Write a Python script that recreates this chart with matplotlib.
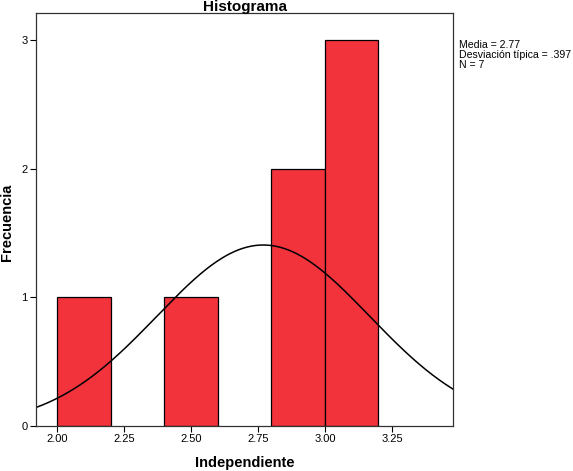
import numpy as np
import matplotlib
matplotlib.use("Agg")
import matplotlib.pyplot as plt

plt.rcParams['font.family'] = ['Liberation Sans', 'DejaVu Sans']

bin_edges = [2.0, 2.2, 2.4, 2.6, 2.8, 3.0, 3.2]
counts = [1, 0, 1, 0, 2, 3]
mean = 2.77
sd = 0.397
n = 7
xticks = [2.00, 2.25, 2.50, 2.75, 3.00, 3.25]
yticks = [0, 1, 2, 3]

W, H = 573, 471
fig = plt.figure(figsize=(W/100, H/100), dpi=100)
ax = fig.add_axes([36/W, 45/H, 417/W, 413/H])

lefts = np.array(bin_edges[:-1])
widths = np.diff(bin_edges)
for l, w, c in zip(lefts, widths, counts):
    if c > 0:
        ax.bar(l, c, width=w, align='edge', color='#f2333c', edgecolor='black', linewidth=0.9)

xmin, xmax = 1.922, 3.478
xs = np.linspace(xmin, xmax, 400)
bw = widths[0]
ys = n * bw / (sd * np.sqrt(2*np.pi)) * np.exp(-0.5*((xs-mean)/sd)**2)
ax.plot(xs, ys, color='black', linewidth=1.1)

ax.set_xlim(xmin, xmax)
ax.set_ylim(0, 3.21)
ax.set_xticks(xticks)
ax.set_xticklabels([f"{t:.2f}" for t in xticks])
ax.set_yticks(yticks)
ax.set_yticklabels([str(t) for t in yticks])
ax.tick_params(axis='both', direction='out', length=4, width=0.8, labelsize=8, pad=2)
for s in ax.spines.values():
    s.set_linewidth(0.9)
    s.set_color('#333333')

fig.text(244.5/W, 1-7.5/H, "Histograma", fontsize=11, fontweight='bold', ha='center', va='center')
fig.text(244.5/W, 1-463/H, "Independiente", fontsize=10.5, fontweight='bold', ha='center', va='center')
fig.text(7/W, 1-222/H, "Frecuencia", fontsize=10.5, fontweight='bold', ha='center', va='center', rotation=90)

fig.text(459/W, 1-40/H, f"Media = {mean:.2f}\nDesviación típica = {str(sd)[1:]}\nN = {n}",
         fontsize=7.6, va='top', ha='left', linespacing=1.0)

fig.savefig("out.png", dpi=100)
